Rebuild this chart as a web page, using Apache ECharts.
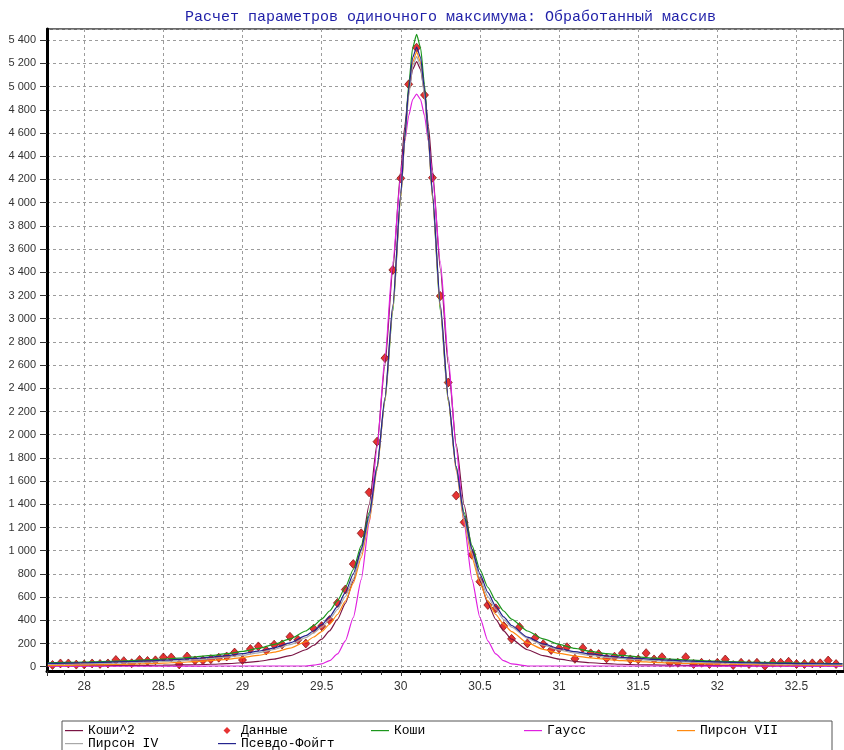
<!DOCTYPE html>
<html>
<head>
<meta charset="utf-8">
<script src="https://cdn.jsdelivr.net/npm/echarts@6/dist/echarts.min.js"></script>
<style>
html,body{margin:0;padding:0;background:#fff;}
#chart{width:844px;height:750px;}
</style>
</head>
<body>
<div id="chart"></div>
<script>
const titleText = 'Расчет параметров одиночного максимума: Обработанный массив';
const seriesNames = ['Коши^2', 'Данные', 'Коши', 'Гаусс', 'Пирсон VII', 'Пирсон IV', 'Псевдо-Фойгт'];

// measured points (2θ, intensity)
const dataX = [27.80,27.85,27.90,27.95,28.00,28.05,28.10,28.15,28.20,28.25,28.30,28.35,28.40,28.45,28.50,28.55,28.60,28.65,28.70,28.75,
  28.80,28.85,28.90,28.95,29.00,29.05,29.10,29.15,29.20,29.25,29.30,29.35,29.40,29.45,29.50,29.55,29.60,29.65,29.70,29.75,
  29.80,29.85,29.90,29.95,30.00,30.05,30.10,30.15,30.20,30.25,30.30,30.35,30.40,30.45,30.50,30.55,30.60,30.65,30.70,30.75,
  30.80,30.85,30.90,30.95,31.00,31.05,31.10,31.15,31.20,31.25,31.30,31.35,31.40,31.45,31.50,31.55,31.60,31.65,31.70,31.75,
  31.80,31.85,31.90,31.95,32.00,32.05,32.10,32.15,32.20,32.25,32.30,32.35,32.40,32.45,32.50,32.55,32.60,32.65,32.70,32.75];
const dataY = [15,28,28,18,20,28,24,28,58,48,30,58,50,55,80,80,20,88,54,55,
  65,78,88,122,58,152,175,140,190,192,258,232,200,328,350,402,550,665,885,1150,
  1503,1940,2660,3420,4210,5020,5336,4928,4215,3195,2450,1475,1245,965,733,532,503,350,240,342,
  201,250,194,144,158,168,68,160,115,109,72,86,117,63,63,117,63,82,34,34,
  82,23,34,23,34,62,14,34,23,34,8,34,34,43,23,23,29,29,53,23];

// fitted curves sampled at these positions
const curveX = [27.77,27.9,28.0,28.1,28.2,28.3,28.4,28.5,28.6,28.7,28.8,28.9,29.0,29.1,29.2,29.3,29.4,29.45,29.5,29.55,
  29.6,29.65,29.7,29.75,29.8,29.85,29.9,29.95,30.0,30.025,30.05,30.075,30.1,30.125,30.15,30.175,30.2,30.25,30.3,30.35,
  30.4,30.45,30.5,30.55,30.6,30.65,30.7,30.8,30.9,31.0,31.1,31.2,31.3,31.4,31.5,31.6,31.7,31.8,31.9,32.0,
  32.1,32.2,32.3,32.4,32.5,32.6,32.7,32.79];
const koshi2 = [7,8,8,9,10,11,12,13,15,17,21,26,34,46,65,95,146,185,237,309,
  408,546,740,1013,1395,1919,2603,3427,4280,4656,4955,5149,5216,5149,4955,4656,4280,3427,2603,1919,
  1395,1013,740,546,408,309,237,146,95,65,46,34,26,21,17,15,13,12,11,10,
  9,8,8,7,7,7,6,6];
const koshi = [34,37,40,44,48,53,59,66,74,84,97,112,132,158,193,240,308,354,410,480,
  569,685,838,1044,1328,1726,2289,3066,4050,4563,5016,5335,5450,5335,5016,4563,4050,3066,2289,1726,
  1328,1044,838,685,569,480,410,308,240,193,158,132,112,97,84,74,66,59,53,48,
  44,40,37,34,32,30,28,27];
const gauss = [4,4,4,4,4,4,4,4,4,5,6,6,6,6,6,6,6,13,25,52,
  110,223,424,750,1236,1885,2665,3490,4231,4526,4749,4889,4936,4889,4749,4526,4231,3490,2665,1885,
  1236,750,424,223,110,52,25,6,6,6,6,6,6,6,6,6,6,6,5,5,
  5,5,5,5,5,5,5,5];
const pearson7 = [10,12,14,16,19,22,26,31,37,44,53,64,79,98,125,160,215,256,303,366,
  450,565,720,940,1250,1690,2300,3100,4050,4530,4940,5210,5300,5210,4940,4530,4050,3100,2300,1690,
  1250,940,720,565,450,366,303,205,150,115,92,76,62,52,44,38,33,29,26,23,
  21,19,17,16,15,14,13,12];
const pearson4 = [20,22,25,28,31,35,39,45,51,59,69,82,98,120,149,190,250,291,342,407,
  493,605,760,975,1275,1705,2310,3110,4060,4530,4920,5180,5260,5180,4920,4530,4060,3110,2310,1705,
  1275,975,760,605,493,407,342,245,185,145,117,97,81,69,60,52,46,41,37,33,
  30,27,25,23,21,20,19,18];
const pseudoVoigt = [28,31,34,37,41,45,50,56,63,71,82,95,112,134,163,205,268,310,362,430,
  520,640,800,1010,1300,1720,2320,3120,4080,4560,4980,5250,5340,5250,4980,4560,4080,3120,2320,1720,
  1300,1010,800,640,520,430,355,255,196,157,130,110,94,81,71,63,56,50,45,41,
  37,34,31,29,27,26,25,24];

const colors = {
  'Коши^2': '#7a1444',
  'Данные': '#e00000',
  'Коши': '#1c961c',
  'Гаусс': '#e020e0',
  'Пирсон VII': '#ff8a10',
  'Пирсон IV': '#a8a8a8',
  'Псевдо-Фойгт': '#24248e'
};

function zip(xs, ys) { return xs.map((x, i) => [x, ys[i]]); }

function lineSeries(name, ys) {
  return {
    name: name, type: 'line', data: zip(curveX, ys),
    symbol: 'none', showSymbol: false, smooth: 0.2, smoothMonotone: 'x',
    lineStyle: { color: colors[name], width: 1.2 },
    itemStyle: { color: colors[name] },
    emphasis: { disabled: true }
  };
}

const lineIcon = 'path://M0 0M18 10M0 4.5L18 4.5L18 5.7L0 5.7Z';
const diamondIcon = 'path://M0 0M18 10M9 1.5L12.5 5L9 8.5L5.5 5Z';

function fmtThousands(v) {
  return String(v).replace(/\B(?=(\d{3})+(?!\d))/g, ' ');
}

const chart = echarts.init(document.getElementById('chart'), null, { renderer: 'canvas' });
chart.setOption({
  animation: false,
  backgroundColor: '#fff',
  title: {
    text: titleText,
    left: 180, top: 5,
    textStyle: { fontFamily: 'Liberation Mono', fontSize: 15, fontWeight: 'normal', color: '#1f1fa8' }
  },
  grid: {
    left: 47, top: 29, right: -2, bottom: 79,
    show: true, borderColor: '#6a6a6a', borderWidth: 2, backgroundColor: '#fff'
  },
  legend: {
    left: 62, top: 721, width: 770,
    orient: 'horizontal',
    padding: [3, 2, 20, 3],
    itemGap: 0, itemWidth: 18, itemHeight: 10,
    borderColor: '#555', borderWidth: 1, backgroundColor: '#fff',
    itemStyle: { borderWidth: 0 },
    selectedMode: false,
    textStyle: { fontFamily: 'Liberation Mono', fontSize: 13, color: '#000', width: 130, lineHeight: 12 },
    data: seriesNames.map(n => ({ name: n, icon: n === 'Данные' ? diamondIcon : lineIcon }))
  },
  xAxis: {
    type: 'value', min: 27.765, max: 32.80, splitNumber: 10,
    axisLine: { onZero: false, lineStyle: { color: '#000', width: 3 } },
    axisTick: { show: true, length: 5, lineStyle: { color: '#333' } },
    minorTick: { show: true, splitNumber: 4, length: 4, lineStyle: { color: '#333' } },
    axisLabel: { showMinLabel: false, showMaxLabel: false, fontFamily: 'Liberation Sans', fontSize: 12, color: '#333', margin: 10 },
    splitLine: { show: true, lineStyle: { color: '#9c9c9c', type: [3, 3], width: 1 } }
  },
  yAxis: {
    type: 'value', min: -37, max: 5497, splitNumber: 27,
    axisLine: { show: true, onZero: false, lineStyle: { color: '#000', width: 3 } },
    axisTick: { show: true, length: 7, lineStyle: { color: '#333' } },
    axisLabel: { showMinLabel: false, showMaxLabel: false, fontFamily: 'Liberation Sans', fontSize: 11, color: '#333', margin: 11, formatter: fmtThousands },
    splitLine: { show: true, lineStyle: { color: '#9c9c9c', type: [3, 3], width: 1 } }
  },
  series: [
    lineSeries('Коши^2', koshi2),
    {
      name: 'Данные', type: 'scatter', data: zip(dataX, dataY),
      symbol: 'diamond', symbolSize: [8, 9],
      itemStyle: { color: colors['Данные'], borderColor: '#6a0000', borderWidth: 0.8 },
      emphasis: { disabled: true }
    },
    lineSeries('Коши', koshi),
    lineSeries('Гаусс', gauss),
    lineSeries('Пирсон VII', pearson7),
    lineSeries('Пирсон IV', pearson4),
    lineSeries('Псевдо-Фойгт', pseudoVoigt)
  ]
});
</script>
</body>
</html>
